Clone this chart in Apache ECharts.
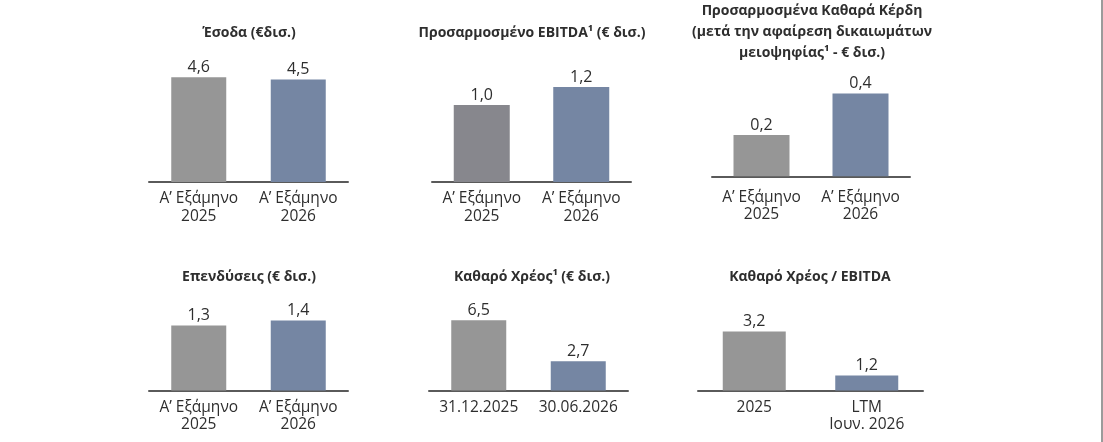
<!DOCTYPE html>
<html>
<head>
<meta charset="utf-8">
<script src="https://cdn.jsdelivr.net/npm/echarts@6/dist/echarts.min.js"></script>
<style>
  html, body { margin: 0; padding: 0; background: #fff; }
  #chart { width: 1101px; height: 442px; border-right: 2px solid #9b9b9b; }
</style>
</head>
<body>
<div id="chart"></div>
<script>
// Six small KPI panels, two bars each. Values as printed on the slide.
const TITLES = [
  'Έσοδα (€δισ.)',
  'Προσαρμοσμένο EBITDA¹ (€ δισ.)',
  'Προσαρμοσμένα Καθαρά Κέρδη\n(μετά την αφαίρεση δικαιωμάτων\nμειοψηφίας¹ - € δισ.)',
  'Επενδύσεις (€ δισ.)',
  'Καθαρό Χρέος¹ (€ δισ.)',
  'Καθαρό Χρέος / EBITDA',
];
const CATS_HALF  = ['Α’ Εξάμηνο\n2025', 'Α’ Εξάμηνο\n2026'];
const CATS_DEBT  = ['31.12.2025', '30.06.2026'];
const CATS_RATIO = ['2025', 'LTM\nΙουν. 2026'];

const REVENUE    = [4.6, 4.5];
const EBITDA     = [1.0, 1.2];
const NET_PROFIT = [0.2, 0.4];
const CAPEX      = [1.3, 1.4];
const NET_DEBT   = [6.5, 2.7];
const DEBT_RATIO = [3.2, 1.2];

const PANELS = [
  { cats: CATS_HALF,  vals: REVENUE },
  { cats: CATS_HALF,  vals: EBITDA },
  { cats: CATS_HALF,  vals: NET_PROFIT },
  { cats: CATS_HALF,  vals: CAPEX },
  { cats: CATS_DEBT,  vals: NET_DEBT },
  { cats: CATS_RATIO, vals: DEBT_RATIO },
];

// layout per panel: axis span, baseline, y range, bar width, title anchor
const LAYOUT = [
  { left: 149, width: 199, top: 40,  base: 182,   min: 0,     max: 6.23,  bar: 55, tx: 249, ty: 33,  c0: '#969696' },
  { left: 432, width: 199, top: 40,  base: 182,   min: 0.15,  max: 1.72,  bar: 56, tx: 532, ty: 33,  c0: '#87878d' },
  { left: 712, width: 198, top: 40,  base: 180.5, min: -0.02, max: 0.659, bar: 56, tx: 812, ty: 11,  c0: '#969696' },
  { left: 149, width: 199, top: 290, base: 390.5, min: 0,     max: 2.01,  bar: 55, tx: 249, ty: 277, c0: '#969696' },
  { left: 429, width: 199, top: 290, base: 390.5, min: 0,     max: 9.3,   bar: 55, tx: 532, ty: 277, c0: '#969696' },
  { left: 698, width: 225, top: 290, base: 390.5, min: 0.52,  max: 5.09,  bar: 63, tx: 810, ty: 277, c0: '#969696' },
];
const BLUE = '#7586a3';
const INK = '#2e2e2e';
const FONT = '"Open Sans", "Noto Sans", sans-serif';

function fmt(v) { return v.toFixed(1).replace('.', ','); }

const chart = echarts.init(document.getElementById('chart'), null, { renderer: 'canvas' });

const option = {
  animation: false,
  textStyle: { fontFamily: FONT, color: INK },
  title: LAYOUT.map((L, i) => ({
    text: TITLES[i],
    left: L.tx,
    top: L.ty - 10.5,
    textAlign: 'center',
    padding: 0,
    textStyle: { fontFamily: FONT, fontSize: 14, fontWeight: 'bold', color: INK, lineHeight: 21 },
  })),
  grid: LAYOUT.map(L => ({
    left: L.left, top: L.top, width: L.width, height: L.base - L.top,
  })),
  xAxis: LAYOUT.map((L, i) => ({
    type: 'category',
    gridIndex: i,
    data: PANELS[i].cats,
    axisTick: { show: false },
    axisLine: { lineStyle: { color: '#5a5a5a', width: 2 } },
    axisLabel: { color: INK, fontFamily: FONT, fontSize: 15.5, lineHeight: 17.5, margin: 8, interval: 0 },
  })),
  yAxis: LAYOUT.map((L, i) => ({
    type: 'value',
    gridIndex: i,
    min: L.min,
    max: L.max,
    show: false,
    splitLine: { show: false },
  })),
  series: LAYOUT.map((L, i) => ({
    type: 'bar',
    xAxisIndex: i,
    yAxisIndex: i,
    barWidth: L.bar,
    data: PANELS[i].vals.map((v, j) => ({
      value: v,
      itemStyle: { color: j === 0 ? L.c0 : BLUE },
    })),
    label: {
      show: true,
      position: 'top',
      distance: 2,
      color: INK,
      fontFamily: FONT,
      fontSize: 16,
      formatter: p => fmt(p.value),
    },
  })),
};

chart.setOption(option);
</script>
</body>
</html>
